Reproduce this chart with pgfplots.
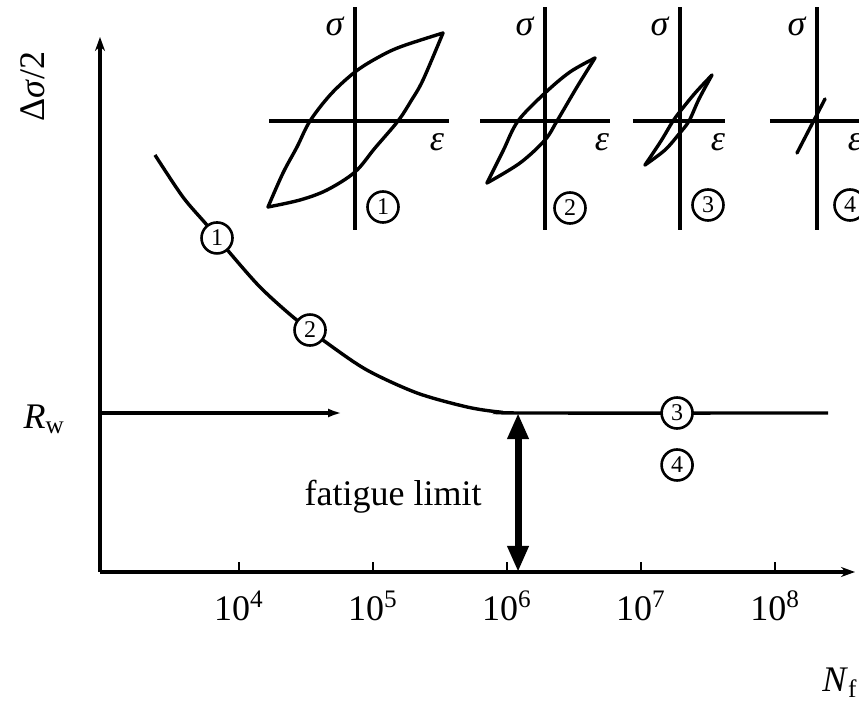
\documentclass[border=0pt]{standalone}
\usepackage{fontspec}
\setmainfont{Liberation Serif}
\usepackage{pgfplots}
\pgfplotsset{compat=1.18}
\usetikzlibrary{arrows.meta}

\tikzset{circnum/.style={circle, draw, line width=1.3pt, fill=white, inner sep=0pt,
    minimum size=15.5pt, font=\fontsize{12}{13}\selectfont}}
\pgfplotsset{
  inset/.style={scale only axis, axis lines=middle, xtick=\empty, ytick=\empty,
    axis line style={line width=1.7pt,-}, clip=false, anchor=origin,
    ymin=-109, ymax=114},
  loop/.style={line width=1.7pt, smooth, tension=0.55, line join=round, line cap=round},
  circlabel/.style={draw=none, nodes near coords, point meta=explicit symbolic,
    nodes near coords style={circnum, anchor=center}}
}

\begin{document}
\begin{tikzpicture}[font=\fontsize{18}{21}\selectfont]
\useasboundingbox (0,0) rectangle (429.5pt,351pt);
\clip (0,0) rectangle (429.5pt,351pt);

% ---------------- main S-N diagram ----------------
\begin{axis}[
  at={(50pt,65pt)}, anchor=south west,
  scale only axis, width=377.5pt, height=267.5pt,
  xmode=log, xmin=918, xmax=3.95e8, ymin=0, ymax=3.365,
  axis lines=left,
  axis line style={line width=1.7pt},
  x axis line style={-{Stealth[length=7pt,width=5pt]}},
  y axis line style={-{Stealth[length=7pt,width=5pt]}},
  xtick={1e4,1e5,1e6,1e7,1e8},
  xticklabels={10\textsuperscript{4},10\textsuperscript{5},10\textsuperscript{6},10\textsuperscript{7},10\textsuperscript{8}},
  xminorticks=false,
  ytick=\empty,
  tick align=inside, major tick length=5pt,
  tick style={line width=1.1pt, black},
  xticklabel style={yshift=-6pt},
  xlabel={\textit{N}\textsubscript{f}},
  xlabel style={at={(rel axis cs:0.980,-0.2075)}, anchor=center},
  ylabel={Δ\textit{σ}/2},
  ylabel style={at={(rel axis cs:-0.0887,0.908)}, anchor=center, rotate=0},
  clip=false,
]
% S-N curve
\addplot[line width=1.7pt, smooth, tension=0.5] coordinates {
  (2360,2.623) (3819,2.358) (5768,2.182) (8570,2.006) (14355,1.792)
  (25293,1.604) (45394,1.440) (90157,1.270) (212814,1.126) (502343,1.038)
  (887156,1.006) (1.486e6,1.0) (2.489e8,1.0)};
% R_w arrow
\addplot[line width=1.7pt, -{Latex[length=7pt,width=4.5pt]}] coordinates {(918,1) (58750,1)};
\node at (rel axis cs:-0.074,0.285) {\textit{R}\textsubscript{w}};
% fatigue limit double arrow
\addplot[line width=3.5pt, {Triangle[length=13pt,width=10pt]}-{Triangle[length=13pt,width=10pt]}]
  coordinates {(1.208e6,1) (1.208e6,0)};
\node at (axis cs:1.41e5,0.472) {fatigue limit};
% circled state markers
\addplot[circlabel] coordinates {(6855,2.101) [1] (33884,1.522) [2] (1.858e7,1.0) [3] (1.858e7,0.673) [4]};
\end{axis}

% ---------------- hysteresis loop 1 ----------------
\begin{axis}[inset, at={(177.5pt,290.5pt)}, xmin=-86, xmax=94, width=90pt, height=111.5pt,
  xlabel={\textit{ε}}, xlabel style={at={(axis cs:82,-21)}, anchor=center},
  ylabel={\textit{σ}}, ylabel style={at={(axis cs:-20,95)}, anchor=center, rotate=0}]
\addplot[loop] coordinates {(-87,-86) (-72,-52) (-58,-26) (-45,0) (-24,27) (0,49) (22,63) (45,74) (88,88)};
\addplot[loop] coordinates {(88,88) (68,41) (56,20) (43,0) (20,-27) (0,-51) (-28,-69) (-55,-79) (-87,-86)};
\addplot[circlabel] coordinates {(28,-86) [1]};
\end{axis}

% ---------------- hysteresis loop 2 ----------------
\begin{axis}[inset, at={(272.5pt,290.5pt)}, xmin=-65, xmax=65, width=65pt, height=111.5pt,
  xlabel={\textit{ε}}, xlabel style={at={(axis cs:57,-21)}, anchor=center},
  ylabel={\textit{σ}}, ylabel style={at={(axis cs:-20,95)}, anchor=center, rotate=0}]
\addplot[loop] coordinates {(-58,-62) (-42,-30) (-27,0) (0,28) (25,49) (50,63)};
\addplot[loop] coordinates {(50,63) (32,34) (12,0) (0,-19) (-25,-42) (-58,-62)};
\addplot[circlabel] coordinates {(25,-87) [2]};
\end{axis}

% ---------------- hysteresis loop 3 ----------------
\begin{axis}[inset, at={(340pt,290.5pt)}, xmin=-47, xmax=45, width=46pt, height=111.5pt,
  xlabel={\textit{ε}}, xlabel style={at={(axis cs:38,-21)}, anchor=center},
  ylabel={\textit{σ}}, ylabel style={at={(axis cs:-20,95)}, anchor=center, rotate=0}]
\addplot[loop] coordinates {(-35,-44) (-19,-20) (-7,0) (2,12) (16,29) (32,46)};
\addplot[loop] coordinates {(32,46) (19,22) (9,0) (-1,-13) (-15,-29) (-35,-44)};
\addplot[circlabel] coordinates {(28,-84) [3]};
\end{axis}

% ---------------- hysteresis loop 4 ----------------
\begin{axis}[inset, at={(408.5pt,290.5pt)}, xmin=-47, xmax=50, width=48.5pt, height=111.5pt,
  xlabel={\textit{ε}}, xlabel style={at={(axis cs:38,-21)}, anchor=center},
  ylabel={\textit{σ}}, ylabel style={at={(axis cs:-20,95)}, anchor=center, rotate=0}]
\addplot[loop] coordinates {(-20,-32) (8,22)};
\addplot[circlabel] coordinates {(33,-84) [4]};
\end{axis}
\end{tikzpicture}
\end{document}
